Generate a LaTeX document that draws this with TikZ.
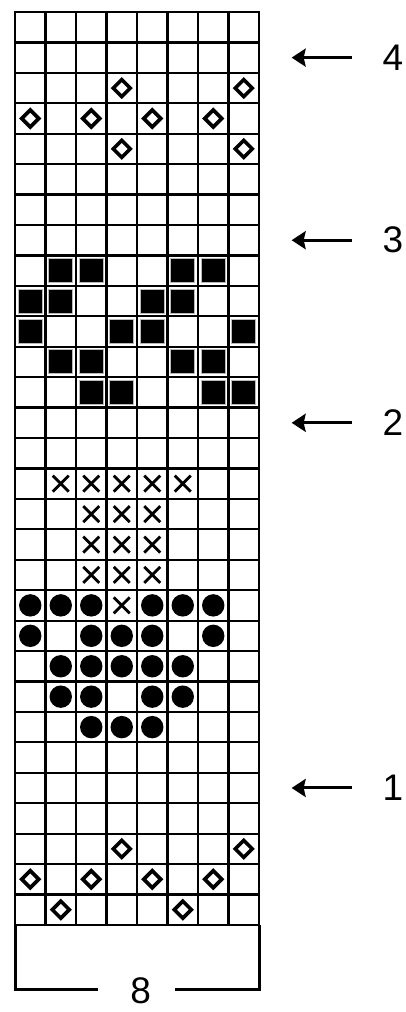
\documentclass[tikz,border=0pt]{standalone}
\usepackage{fontspec}
\setmainfont{Liberation Sans}
\usetikzlibrary{arrows.meta}

\tikzset{
  gridline/.style={line width=2.2pt},
  rowarrow/.style={-{Stealth[length=14pt,width=18pt,inset=2pt]}, line width=3pt},
  rowlabel/.style={font=\fontsize{37}{40}\selectfont, inner sep=0pt},
  diamondmark/.style={line width=3.6pt},
  crossmark/.style={line width=2.8pt},
}

\begin{document}
\begin{tikzpicture}[x=30.5pt, y=-30.43pt]
  \useasboundingbox (-0.492,-0.394) rectangle (12.787,32.862);
  % Raster 8 x 30
  \foreach \c in {1,...,7} \draw[gridline] (\c,0) -- (\c,30);
  \foreach \r in {1,...,29} \draw[gridline] (0,\r) -- (8,\r);
  \draw[gridline] (0,0) rectangle (8,30);
  % Rauten
  \foreach \c/\r in {4/3,8/3,1/4,3/4,5/4,7/4,4/5,8/5,4/28,8/28,1/29,3/29,5/29,7/29,2/30,6/30}
    \draw[diamondmark] (\c-0.5,\r-0.5) +(8.5pt,0) -- +(0,8.5pt) -- +(-8.5pt,0) -- +(0,-8.5pt) -- cycle;
  % schwarze Kaestchen
  \foreach \c/\r in {2/9,3/9,6/9,7/9,1/10,2/10,5/10,6/10,1/11,4/11,5/11,8/11,2/12,3/12,6/12,7/12,3/13,4/13,7/13,8/13}
    \filldraw[fill=black, draw=gray!55, line width=1.1pt] (\c-0.5,\r-0.5) +(-12pt,-12pt) rectangle +(12pt,12pt);
  % Kreuze
  \foreach \c/\r in {2/16,3/16,4/16,5/16,6/16,3/17,4/17,5/17,3/18,4/18,5/18,3/19,4/19,5/19,4/20}
    \draw[crossmark] (\c-0.5,\r-0.5) +(-8pt,-8pt) -- +(8pt,8pt) +(-8pt,8pt) -- +(8pt,-8pt);
  % Punkte
  \foreach \c/\r in {1/20,2/20,3/20,5/20,6/20,7/20,1/21,3/21,4/21,5/21,7/21,2/22,3/22,4/22,5/22,6/22,2/23,3/23,5/23,6/23,3/24,4/24,5/24}
    \fill (\c-0.5,\r-0.5) circle (11.2pt);
  % Pfeile mit Reihen
  \foreach \n/\r in {4/1.5,3/7.5,2/13.5,1/25.5} {
    \coordinate (tip\n) at (9.07,\r);
    \coordinate (tail\n) at (11.04,\r);
    \draw[rowarrow] (tail\n) -- (tip\n);
    \node[rowlabel] (lab\n) at (12.39,\r) {\n};
  }
  % Klammer unten
  \draw[line width=3pt] (2.72,32.11) -| (0,30);
  \draw[line width=3pt] (5.25,32.11) -| (8,30);
  \node[rowlabel] (wlab) at (4.12,32.18) {8};
\end{tikzpicture}
\end{document}
